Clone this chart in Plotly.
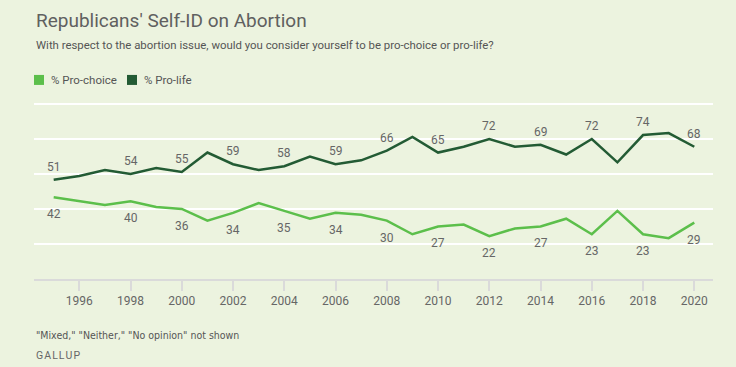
import plotly.graph_objects as go

years = list(range(1995, 2021))
pro_life = [51, 53, 56, 54, 57, 55, 65, 59, 56, 58, 63, 59, 61, 66, 73, 65, 68, 72, 68, 69, 64, 72, 60, 74, 75, 68]
pro_choice = [42, 40, 38, 40, 37, 36, 30, 34, 39, 35, 31, 34, 33, 30, 23, 27, 28, 22, 26, 27, 31, 23, 35, 23, 21, 29]
label_years = [1995, 1998, 2000, 2002, 2004, 2006, 2008, 2010, 2012, 2014, 2016, 2018, 2020]
tick_years = list(range(1996, 2021, 2))
grid_values = [18, 36, 54, 72, 90]

BG = "#ECF3DF"
LIGHT = "#5CBF4B"
DARK = "#235B34"
TXT = "#666666"
FONT = "Roboto, 'Noto Sans', sans-serif"

W, H = 736, 367
L, R, T, B = 34, 23, 102.06, 88
PW, PH = W - L - R, H - T - B


def px_x(px):
    return (px - L) / PW


def px_y(py):
    return (H - B - py) / PH


fig = go.Figure()
fig.add_trace(go.Scatter(x=years, y=pro_choice, mode="lines", name="% Pro-choice",
                         line=dict(color=LIGHT, width=2.5), hoverinfo="x+y", showlegend=False))
fig.add_trace(go.Scatter(x=years, y=pro_life, mode="lines", name="% Pro-life",
                         line=dict(color=DARK, width=2.5), hoverinfo="x+y", showlegend=False))

annotations = []
for yr in label_years:
    i = years.index(yr)
    annotations.append(dict(x=yr, y=pro_life[i], xref="x", yref="y", text=str(pro_life[i]),
                            showarrow=False, yshift=13, font=dict(size=12, color=TXT, family=FONT)))
    annotations.append(dict(x=yr, y=pro_choice[i], xref="x", yref="y", text=str(pro_choice[i]),
                            showarrow=False, yshift=-17, font=dict(size=12, color=TXT, family=FONT)))

# Title, subtitle
annotations.append(dict(x=px_x(34), y=px_y(21), xref="paper", yref="paper", xanchor="left", yanchor="middle",
                        text="Republicans' Self-ID on Abortion", showarrow=False,
                        font=dict(size=19, color="#606060", family=FONT)))
annotations.append(dict(x=px_x(34), y=px_y(45.5), xref="paper", yref="paper", xanchor="left", yanchor="middle",
                        text="With respect to the abortion issue, would you consider yourself to be pro-choice or pro-life?",
                        showarrow=False, font=dict(size=11.4, color="#555555", family=FONT)))
# Legend
shapes = []
for sx, col, label, tx in [(34, LIGHT, "% Pro-choice", 49), (127, DARK, "% Pro-life", 142)]:
    shapes.append(dict(type="rect", xref="paper", yref="paper", x0=px_x(sx), x1=px_x(sx + 10),
                       y0=px_y(85), y1=px_y(75), fillcolor=col, line=dict(width=0)))
    annotations.append(dict(x=px_x(tx), y=px_y(80), xref="paper", yref="paper", xanchor="left", yanchor="middle",
                            text=label, showarrow=False, font=dict(size=11.5, color="#555555", family=FONT)))
# Footer
annotations.append(dict(x=px_x(34), y=px_y(334.5), xref="paper", yref="paper", xanchor="left", yanchor="middle",
                        text='"Mixed," "Neither," "No opinion" not shown', showarrow=False,
                        font=dict(size=10.5, color="#555555", family="'Liberation Sans Narrow', 'DejaVu Sans Condensed', Roboto")))
annotations.append(dict(x=px_x(34), y=px_y(355), xref="paper", yref="paper", xanchor="left", yanchor="middle",
                        text="G\u200aA\u200aL\u200aL\u200aU\u200aP", showarrow=False,
                        font=dict(size=10.5, color="#666666", family=FONT)))

fig.update_layout(
    width=W, height=H,
    margin=dict(l=L, r=R, t=T, b=B),
    paper_bgcolor=BG, plot_bgcolor=BG,
    showlegend=False,
    annotations=annotations,
    shapes=shapes,
    xaxis=dict(range=[1994.232, 2020.73], tickvals=tick_years, ticktext=[str(t) for t in tick_years],
               showgrid=False, zeroline=False, showline=True, linecolor="#DADADA", linewidth=2,
               ticks="outside", ticklen=10, tickwidth=1.5, tickcolor="#DADADA",
               tickfont=dict(size=12, color=TXT, family=FONT), fixedrange=True),
    yaxis=dict(range=[0, 91], tickvals=grid_values, showticklabels=False,
               showgrid=True, gridcolor="#FFFFFF", gridwidth=2, zeroline=False, showline=False,
               fixedrange=True),
)

fig.write_html("out.html", config={"displayModeBar": False},
               post_script="document.body.style.margin='0';document.body.style.background='" + BG + "';")
